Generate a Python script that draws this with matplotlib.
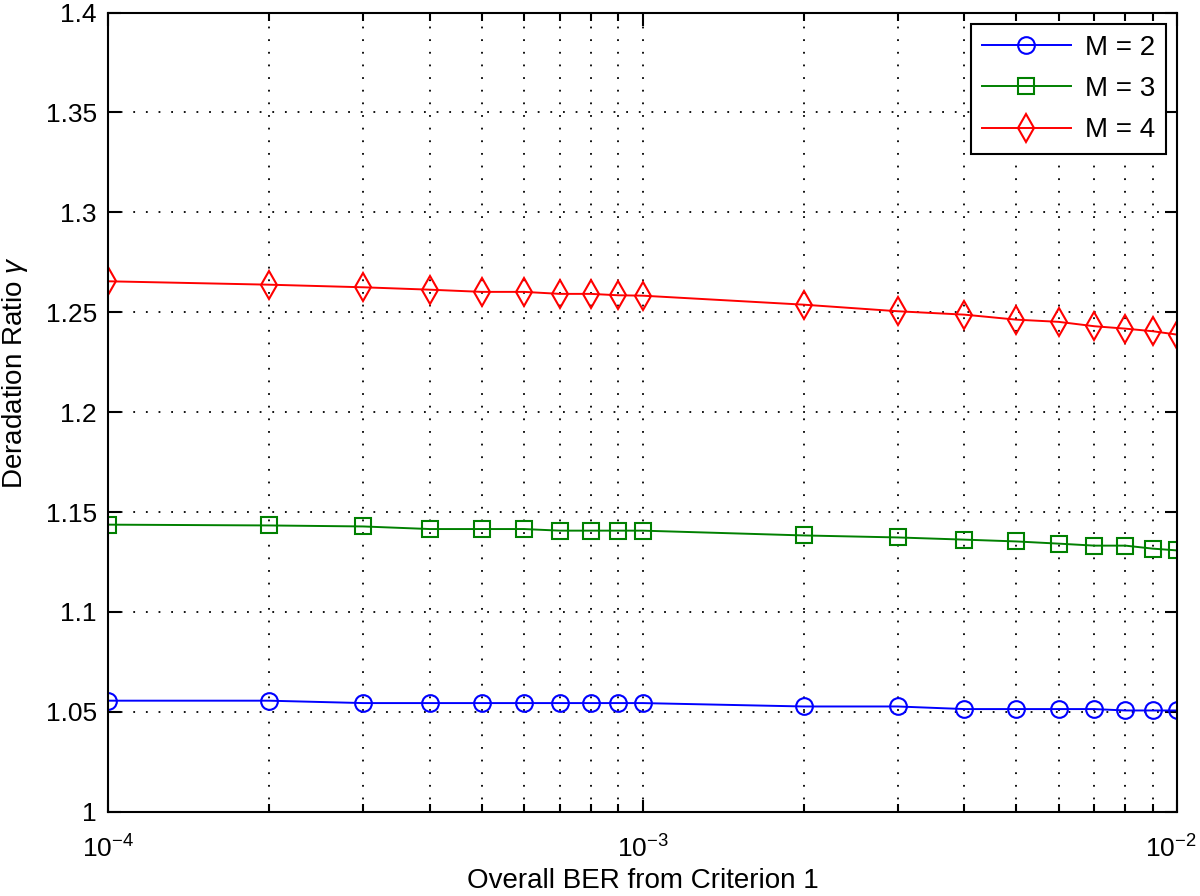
import numpy as np
import matplotlib
matplotlib.use('Agg')
import matplotlib.pyplot as plt
import matplotlib.transforms as mtransforms
from matplotlib.ticker import LogLocator, FixedLocator

plt.rcParams['font.family'] = ['Liberation Sans', 'DejaVu Sans']
plt.rcParams['mathtext.fontset'] = 'custom'
plt.rcParams['mathtext.rm'] = 'Liberation Sans'
plt.rcParams['mathtext.it'] = 'Liberation Sans:italic'

# data
ber = [1e-4, 2e-4, 3e-4, 4e-4, 5e-4, 6e-4, 7e-4, 8e-4, 9e-4,
       1e-3, 2e-3, 3e-3, 4e-3, 5e-3, 6e-3, 7e-3, 8e-3, 9e-3, 1e-2]
ratio_m2 = [1.0556, 1.0556, 1.0544, 1.0544, 1.0544, 1.0544, 1.0544, 1.0544, 1.0544,
            1.0544, 1.0527, 1.0527, 1.0514, 1.0514, 1.0514, 1.0514, 1.0507, 1.0507, 1.0507]
ratio_m3 = [1.1437, 1.1433, 1.1428, 1.1415, 1.1415, 1.1415, 1.1407, 1.1407, 1.1407,
            1.1407, 1.1383, 1.1373, 1.1362, 1.1353, 1.1342, 1.1332, 1.1332, 1.1317, 1.1308]
ratio_m4 = [1.2655, 1.2638, 1.2625, 1.2613, 1.2602, 1.2602, 1.2592, 1.2592, 1.2585,
            1.2583, 1.2538, 1.2505, 1.2488, 1.2463, 1.2452, 1.2430, 1.2418, 1.2405, 1.2388]

labels = ['M = 2', 'M = 3', 'M = 4']
colors = ['#0000ff', '#008000', '#ff0000']
markers = ['o', 's', 'd']

xticks = [1e-4, 1e-3, 1e-2]
xticklabels = [r'$\mathregular{10^{-4}}$', r'$\mathregular{10^{-3}}$', r'$\mathregular{10^{-2}}$']
yticks = [1, 1.05, 1.1, 1.15, 1.2, 1.25, 1.3, 1.35, 1.4]
yticklabels = ['1', '1.05', '1.1', '1.15', '1.2', '1.25', '1.3', '1.35', '1.4']

fig = plt.figure(figsize=(12, 8.96), dpi=100)
ax = fig.add_axes([0.09, 0.094, 0.891, 0.892])

for y, lab, c, m in zip([ratio_m2, ratio_m3, ratio_m4], labels, colors, markers):
    ax.plot(ber, y, color=c, marker=m, markersize=14 if m == 'd' else 12,
            markerfacecolor='none', markeredgecolor=c, markeredgewidth=1.5,
            linewidth=1.4, label=lab)

ax.set_xscale('log')
ax.set_xlim(1e-4, 1e-2)
ax.set_ylim(1, 1.4)
ax.set_yticks(yticks)
ax.set_yticklabels(yticklabels)
ax.xaxis.set_major_locator(FixedLocator(xticks))
ax.set_xticklabels(xticklabels)
ax.xaxis.set_minor_locator(LogLocator(base=10, subs=np.arange(2, 10), numticks=20))

dots = (0, (1, 6))
ax.grid(True, which='major', linestyle=dots, color='black', linewidth=1.3)
ax.grid(True, which='minor', axis='x', linestyle=dots, color='black', linewidth=1.3)

ax.tick_params(which='both', direction='in', top=True, right=True, labelsize=19,
               width=1.5)
ax.tick_params(axis='y', pad=8)
ax.tick_params(axis='x', pad=17)
ax.tick_params(which='major', length=9)
ax.tick_params(which='minor', length=6)
for s in ax.spines.values():
    s.set_linewidth(1.5)

# pull the last x label in a bit so it stays inside the figure
last = ax.get_xticklabels()[-1]
last.set_transform(last.get_transform() + mtransforms.ScaledTranslation(-6 / 100, 0, fig.dpi_scale_trans))

ax.set_xlabel('Overall BER from Criterion 1', fontsize=20, labelpad=4)
ax.set_ylabel(r'Deradation Ratio $\gamma$', fontsize=20)
ax.yaxis.set_label_coords(-0.073, 0.55)

leg = ax.legend(loc='upper right', fontsize=20, fancybox=False, edgecolor='black',
                framealpha=1, handlelength=3.2, borderaxespad=0.4, labelspacing=0.55,
                borderpad=0.4, handletextpad=0.5)
leg.get_frame().set_linewidth(1.5)

fig.savefig('out.png', dpi=100)
